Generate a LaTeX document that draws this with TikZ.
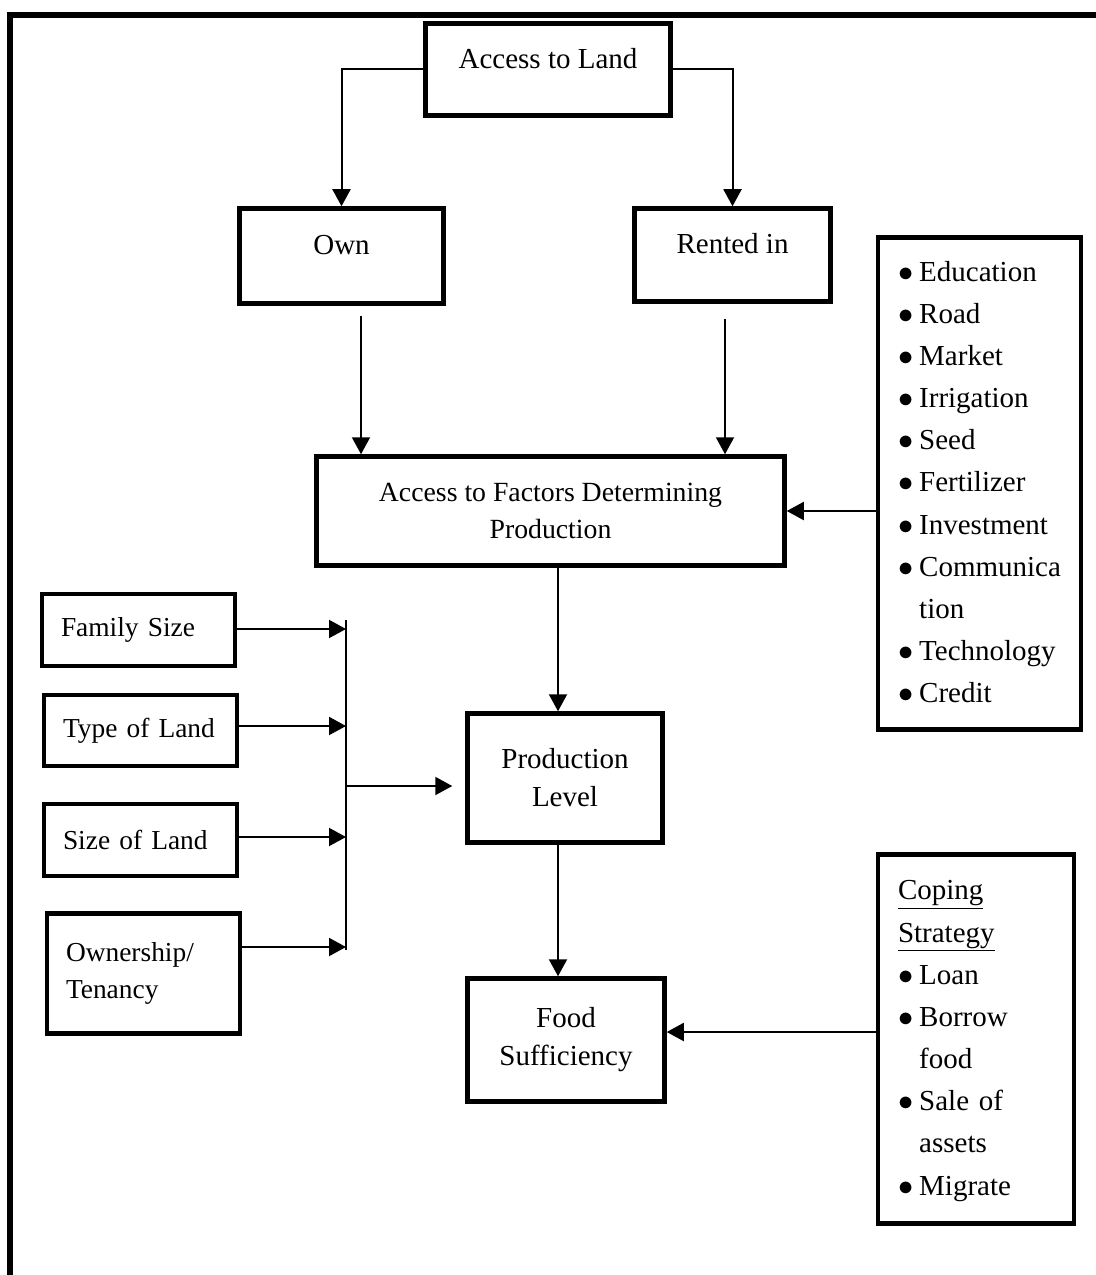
\documentclass[tikz,border=0pt]{standalone}
\usepackage{fontspec}
\setmainfont{Liberation Serif}
\usetikzlibrary{arrows.meta}

\begin{document}
\begin{tikzpicture}[font=\fontsize{16.5}{21.6}\selectfont, >={Triangle[length=0.34cm,width=0.36cm]},
  box/.style={draw, line width=0.09cm, inner sep=0.1cm, align=center},
  topbox/.style={box, text height=0.42cm, text depth=0.46cm},
  leftbox/.style={draw, line width=0.09cm, inner xsep=0.38cm, text width=3.1cm, align=left, font=\fontsize{15.6}{21}\selectfont},
  listbox/.style={draw, line width=0.09cm, inner xsep=0.4cm, align=left, font=\fontsize{16.5}{24}\selectfont},
  conn/.style={->, line width=0.04cm}]
  \useasboundingbox (0,0) rectangle (21.92,-25.5);
  \draw[line width=0.11cm] (0.2,-25.7) -- (0.2,-0.3) -- (22.1,-0.3); % frame

  % main chain
  \node[topbox, minimum width=4.9cm, minimum height=1.84cm] (land) at (10.96,-1.39) {Access to Land};
  \node[topbox, minimum width=4.08cm, minimum height=1.9cm] (own) at (6.83,-5.12) {Own};
  \node[topbox, minimum width=3.92cm, minimum height=1.86cm] (rent) at (14.65,-5.10) {Rented in};
  \node[box, minimum width=9.36cm, minimum height=2.18cm, font=\fontsize{15.8}{21}\selectfont] (factors) at (11.01,-10.22) {Access to Factors Determining\\Production};
  \node[box, minimum width=3.9cm, minimum height=2.58cm] (prod) at (11.30,-15.56) {Production\\Level};
  \node[box, minimum width=3.94cm, minimum height=2.46cm] (food) at (11.32,-20.80) {Food\\Sufficiency};

  % lists on the right
  \node[listbox, text width=3.26cm, minimum height=9.84cm] (factlist) at (19.59,-9.67) {%
    \begin{tabular}{@{}l@{\hspace{0.12cm}}l@{}}
      $\bullet$ & Education\\
      $\bullet$ & Road\\
      $\bullet$ & Market\\
      $\bullet$ & Irrigation\\
      $\bullet$ & Seed\\
      $\bullet$ & Fertilizer\\
      $\bullet$ & Investment\\
      $\bullet$ & Communica\\
                & tion\\
      $\bullet$ & Technology\\
      $\bullet$ & Credit
    \end{tabular}};
  \node[listbox, text width=3.12cm, minimum height=7.38cm] (coping) at (19.52,-20.78) {%
    \begin{tabular}{@{}l@{\hspace{0.12cm}}l@{}}
      \multicolumn{2}{@{}l@{}}{\underline{Coping}}\\
      \multicolumn{2}{@{}l@{}}{\underline{Strategy}}\\
      $\bullet$ & Loan\\
      $\bullet$ & Borrow\\
                & food\\
      $\bullet$ & Sale of\\
                & assets\\
      $\bullet$ & Migrate
    \end{tabular}};

  % boxes on the left
  \node[leftbox, minimum height=1.44cm] (fam) at (2.77,-12.60) {Family Size};
  \node[leftbox, minimum height=1.42cm] (type) at (2.81,-14.61) {Type of Land};
  \node[leftbox, minimum height=1.44cm] (sizeland) at (2.81,-16.80) {Size of Land};
  \node[leftbox, minimum height=2.4cm] (owner) at (2.87,-19.47) {Ownership/\\Tenancy};

  \coordinate (bustop) at (6.92,-12.4);
  \coordinate (busbot) at (6.92,-19.0);
  \coordinate (busmid) at (6.92,-15.72);
  \draw[line width=0.03cm] (bustop) -- (busbot);
  \foreach \n/\dy in {fam/0.02, type/0.09, sizeland/0.06, owner/0.53} {
    \coordinate (out) at ([yshift=\dy cm]\n.east);
    \draw[conn] (out) -- (out -| bustop);
  }
  \coordinate (prodl) at ([xshift=-0.26cm]prod.west);
  \draw[conn] (busmid) -- (busmid -| prodl);

  % connectors
  \draw[conn] (land.west) -| (own.north);
  \draw[conn] (land.east) -| (rent.north);
  \coordinate (ownout) at ([shift={(0.39,-0.2)}]own.south);
  \draw[conn] (ownout) -- (ownout |- factors.north);
  \coordinate (rentout) at ([shift={(-0.15,-0.3)}]rent.south);
  \draw[conn] (rentout) -- (rentout |- factors.north);
  \coordinate (prodin) at ([xshift=-0.14cm]prod.north);
  \draw[conn] (prodin |- factors.south) -- (prodin);
  \coordinate (foodin) at ([xshift=-0.16cm]food.north);
  \draw[conn] (foodin |- prod.south) -- (foodin);
  \draw[conn] (factlist.west |- factors.east) -- (factors.east);
  \coordinate (foodr) at ([yshift=0.16cm]food.east);
  \draw[conn] (coping.west |- foodr) -- (foodr);
\end{tikzpicture}
\end{document}
